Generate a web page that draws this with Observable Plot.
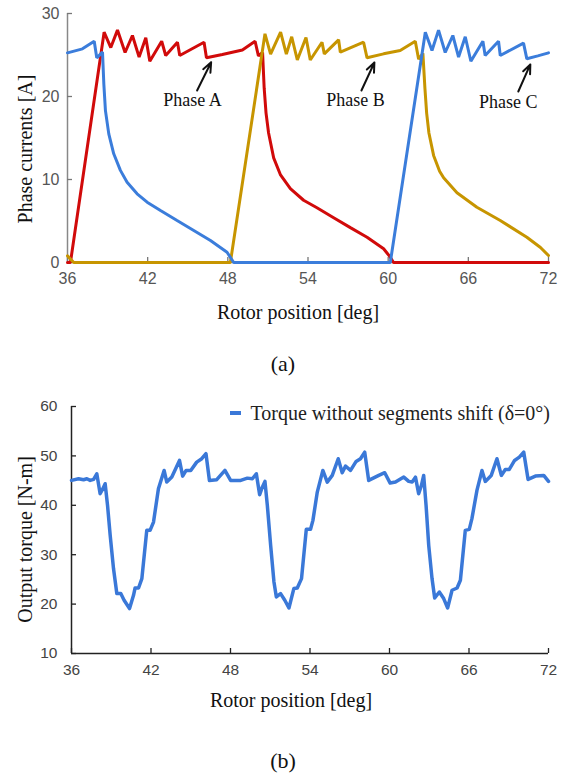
<!DOCTYPE html>
<html>
<head>
<meta charset="utf-8">
<script src="https://cdn.jsdelivr.net/npm/d3@7"></script>
<script src="https://cdn.jsdelivr.net/npm/@observablehq/plot@0.6"></script>
<style>
  html, body { margin: 0; padding: 0; background: #fff; }
  #wrap { position: relative; width: 566px; height: 777px; background: #fff; overflow: hidden; }
  .pane { position: absolute; left: 0; }
  .cap { position: absolute; left: 0; width: 566px; text-align: center; font-family: "Liberation Serif", "Times New Roman", serif; font-size: 22px; color: #111; }
  #legend { position: absolute; right: 16px; top: 401px; display: flex; align-items: center; gap: 10px;
    font-family: "Liberation Serif", "Times New Roman", serif; font-size: 20px; color: #222; line-height: 24px; }
  #legend .sw { display: inline-block; width: 11px; height: 4px; background: #3a78d8; }
</style>
</head>
<body>
<div id="wrap">
  <div id="chartA" class="pane" style="top:0px"></div>
  <div class="cap" style="top:351px">(a)</div>
  <div id="chartB" class="pane" style="top:380px"></div>
  <div id="legend"><span class="sw"></span><span id="legendText"></span></div>
  <div class="cap" style="top:748px">(b)</div>
</div>
<script>
// ---------- data ----------
const xTicks = [36, 42, 48, 54, 60, 66, 72];
const currentTicks = [0, 10, 20, 30];
const torqueTicks = [10, 20, 30, 40, 50, 60];

const xTitle = "Rotor position [deg]";
const currentTitle = "Phase currents [A]";
const torqueTitle = "Output torque [N-m]";
const legendLabel = "Torque without segments shift (δ=0°)";

// Phase A (red): [rotor position deg, current A]
const phaseA = [
  [36, 0], [36.22, 0], [38.74, 27.75], [39.24, 25.9], [39.74, 28.0], [40.31, 25.3], [40.86, 27.35],
  [41.36, 24.75], [41.86, 27.07], [42.16, 24.25], [43.05, 26.66], [43.35, 24.94], [44.23, 26.54],
  [44.40, 24.94], [46.22, 26.54], [46.40, 24.66], [47.59, 25.06], [49.09, 25.6], [50.04, 26.66],
  [50.29, 24.9], [50.6, 25.3], [50.72, 21.0], [50.86, 18.0], [51.05, 15.6], [51.43, 12.6],
  [51.93, 10.6], [52.68, 8.9], [53.67, 7.5], [54.67, 6.6], [55.92, 5.4], [57.17, 4.2],
  [58.42, 3.05], [59.66, 1.65], [60.16, 0.64], [60.4, 0], [72, 0]
];
// Phase B (gold)
const phaseB = [
  [36, 0.8], [36.47, 0], [48.19, 0], [50.78, 27.55], [51.2, 25.1], [51.95, 27.75], [52.38, 25.1],
  [52.78, 27.2], [53.2, 24.4], [53.85, 27.1], [54.17, 24.4], [55.05, 26.54], [55.22, 25.14],
  [56.29, 26.83], [56.42, 25.34], [58.16, 26.54], [58.42, 24.66], [59.66, 25.14], [60.9, 25.54],
  [62.03, 26.66], [62.28, 24.5], [62.6, 25.2], [62.75, 21.0], [62.88, 18.0], [63.05, 15.6],
  [63.4, 12.9], [63.85, 11.0], [64.15, 10.2], [65.15, 8.4], [66.64, 6.66], [68.39, 5.06],
  [70.38, 3.05], [71.4, 1.8], [72, 0.84]
];
// Phase C (blue)
const phaseC = [
  [36, 25.26], [37.12, 25.74], [38.0, 26.66], [38.19, 24.66], [38.62, 25.34], [38.72, 21.5],
  [38.84, 18.3], [39.09, 15.5], [39.46, 13.1], [39.96, 11.1], [40.46, 9.68], [41.21, 8.28],
  [41.96, 7.27], [42.96, 6.27], [44.2, 5.06], [45.45, 3.86], [46.7, 2.65], [47.94, 1.24],
  [48.44, 0], [60.16, 0], [62.78, 27.75], [63.28, 25.54], [63.77, 28.0], [64.27, 25.3],
  [64.84, 27.35], [65.27, 24.75], [65.77, 27.2], [66.19, 24.25], [67.09, 26.66], [67.26, 24.94],
  [68.26, 26.66], [68.39, 24.94], [70.13, 26.43], [70.38, 24.54], [71.2, 24.9], [72, 25.26]
];

// Phase annotations: label, text position, arrow tail, arrow head (data units)
const phaseNames = ["Phase A", "Phase B", "Phase C"];
const labelPos = [[45.35, 19.5], [57.55, 19.5], [68.99, 19.3]];
const arrowTail = [[45.70, 20.72], [58.0, 20.72], [69.74, 20.6]];
const arrowHead = [[46.75, 24.13], [58.97, 24.1], [70.64, 23.86]];

// Output torque: [rotor position deg, torque N-m]
const torque = [
  [36.0, 45.04], [36.53, 45.38], [36.91, 45.18], [37.16, 45.38], [37.41, 45.04], [37.67, 45.24],
  [37.91, 46.39], [38.16, 42.35], [38.37, 43.36], [38.54, 44.37], [38.72, 39.98], [38.92, 33.92],
  [39.17, 27.19], [39.42, 22.13], [39.72, 22.13], [39.97, 20.78], [40.38, 19.1], [40.68, 21.79],
  [40.8, 23.26], [41.06, 23.26], [41.31, 25.16], [41.68, 34.93], [41.93, 34.93], [42.19, 36.61],
  [42.56, 43.36], [42.99, 47.06], [43.19, 44.7], [43.57, 45.71], [44.15, 49.08], [44.39, 45.91],
  [44.65, 47.06], [45.0, 47.06], [45.45, 48.74], [45.83, 49.43], [46.15, 50.44], [46.41, 45.04],
  [46.96, 45.18], [47.58, 47.06], [48.01, 45.04], [48.77, 45.04], [49.27, 45.5], [49.65, 45.38],
  [49.95, 46.39], [50.2, 42.15], [50.4, 43.68], [50.6, 44.84], [50.78, 39.98], [51.03, 31.9],
  [51.28, 24.48], [51.46, 21.45], [51.78, 22.13], [52.1, 20.78], [52.41, 19.22], [52.78, 23.14],
  [53.04, 23.26], [53.36, 25.16], [53.72, 35.13], [54.04, 35.13], [54.22, 36.95], [54.55, 42.68],
  [54.97, 47.06], [55.3, 44.7], [55.68, 46.05], [56.13, 49.43], [56.43, 46.6], [56.68, 47.93],
  [57.06, 47.06], [57.48, 48.88], [57.81, 49.43], [58.13, 50.76], [58.43, 45.04], [59.19, 46.05],
  [59.64, 46.6], [60.05, 44.5], [60.45, 44.7], [61.08, 45.71], [61.45, 44.84], [61.71, 44.7],
  [61.96, 45.71], [62.2, 42.35], [62.41, 44.03], [62.58, 46.05], [62.76, 39.98], [62.96, 31.9],
  [63.21, 25.16], [63.41, 21.24], [63.76, 22.45], [64.09, 21.12], [64.39, 19.22], [64.72, 22.8],
  [65.1, 23.26], [65.35, 24.82], [65.72, 34.93], [66.02, 35.13], [66.22, 37.3], [66.6, 43.02],
  [66.98, 47.06], [67.23, 44.84], [67.68, 46.05], [68.11, 49.43], [68.44, 46.05], [68.74, 47.26],
  [69.04, 47.26], [69.44, 49.08], [69.8, 49.75], [70.13, 50.76], [70.46, 45.24], [71.01, 45.91],
  [71.64, 46.05], [72.0, 44.84]
];

// ---------- rendering ----------
const SERIF = "'Liberation Serif', 'Times New Roman', serif";
const SANS = "'Liberation Sans', Arial, sans-serif";
const RED = "#d10a0a", GOLD = "#c79500", BLUE = "#3b7ddb";

const annotations = phaseNames.map((name, i) => ({
  name, tx: labelPos[i][0], ty: labelPos[i][1],
  x1: arrowTail[i][0], y1: arrowTail[i][1], x2: arrowHead[i][0], y2: arrowHead[i][1]
}));

const titleStyle = {fontFamily: SERIF, fontSize: 20, fill: "#111", textAnchor: "middle", lineAnchor: "middle"};

// Chart (a)
const wA = 566, hA = 330, mlA = 67, mrA = 18, mtA = 13, mbA = 68;
const chartA = Plot.plot({
  width: wA, height: hA,
  marginLeft: mlA, marginRight: mrA, marginTop: mtA, marginBottom: mbA,
  x: {domain: [36, 72]},
  y: {domain: [0, 30]},
  style: {fontFamily: SANS, background: "white", overflow: "visible"},
  marks: [
    Plot.axisX({ticks: xTicks, tickSize: 0, tickPadding: 10, label: null, fontSize: 16, color: "#555"}),
    Plot.axisY({ticks: currentTicks, tickSize: 0, tickPadding: 8, label: null, fontSize: 16, color: "#555"}),
    Plot.ruleY([0], {stroke: "#888", strokeWidth: 1.5}),
    Plot.ruleX([36], {stroke: "#888", strokeWidth: 1.5}),
    Plot.tickX(xTicks, {x: d => d, insetTop: hA - mtA - mbA - 5, stroke: "#777", strokeWidth: 1.3}),
    Plot.tickY(currentTicks, {y: d => d, insetRight: wA - mlA - mrA - 5, stroke: "#777", strokeWidth: 1.3}),
    Plot.line(phaseA, {x: d => d[0], y: d => d[1], stroke: RED, strokeWidth: 3, strokeLinejoin: "miter"}),
    Plot.line(phaseB, {x: d => d[0], y: d => d[1], stroke: GOLD, strokeWidth: 3, strokeLinejoin: "miter"}),
    Plot.line(phaseC, {x: d => d[0], y: d => d[1], stroke: BLUE, strokeWidth: 3, strokeLinejoin: "miter"}),
    Plot.arrow(annotations, {x1: "x1", y1: "y1", x2: "x2", y2: "y2", stroke: "#111", strokeWidth: 2, headLength: 8, headAngle: 45}),
    Plot.text(annotations, {x: "tx", y: "ty", text: "name", fontFamily: SERIF, fontSize: 18, fill: "#111"}),
    Plot.text([xTitle], {frameAnchor: "bottom", dy: 50, dx: -10, ...titleStyle}),
    Plot.text([currentTitle], {frameAnchor: "left", rotate: -90, dx: -42, dy: 11, ...titleStyle})
  ]
});
document.getElementById("chartA").appendChild(chartA);

// Chart (b)
const wB = 566, hB = 340, mlB = 71, mrB = 18, mtB = 26, mbB = 67;
const chartB = Plot.plot({
  width: wB, height: hB,
  marginLeft: mlB, marginRight: mrB, marginTop: mtB, marginBottom: mbB,
  x: {domain: [36, 72]},
  y: {domain: [10, 60]},
  style: {fontFamily: SANS, background: "white", overflow: "visible"},
  marks: [
    Plot.axisX({ticks: xTicks, tickSize: 0, tickPadding: 10, label: null, fontSize: 15.5, color: "#444"}),
    Plot.axisY({ticks: torqueTicks, tickSize: 0, tickPadding: 14, label: null, fontSize: 15.5, color: "#444"}),
    Plot.ruleY([10], {stroke: "#222", strokeWidth: 1.5}),
    Plot.ruleX([36], {stroke: "#222", strokeWidth: 1.5}),
    Plot.tickX(xTicks, {x: d => d, insetTop: hB - mtB - mbB - 5, stroke: "#222", strokeWidth: 1.3}),
    Plot.tickY(torqueTicks, {y: d => d, insetRight: wB - mlB - mrB - 5, stroke: "#222", strokeWidth: 1.3}),
    Plot.line(torque, {x: d => d[0], y: d => d[1], stroke: "#3a78d8", strokeWidth: 3.5, strokeLinejoin: "round"}),
    Plot.text([xTitle], {frameAnchor: "bottom", dy: 47, dx: -19, ...titleStyle}),
    Plot.text([torqueTitle], {frameAnchor: "left", rotate: -90, dx: -46, dy: 9.5, ...titleStyle})
  ]
});
document.getElementById("chartB").appendChild(chartB);
document.getElementById("legendText").textContent = legendLabel;
</script>
</body>
</html>
